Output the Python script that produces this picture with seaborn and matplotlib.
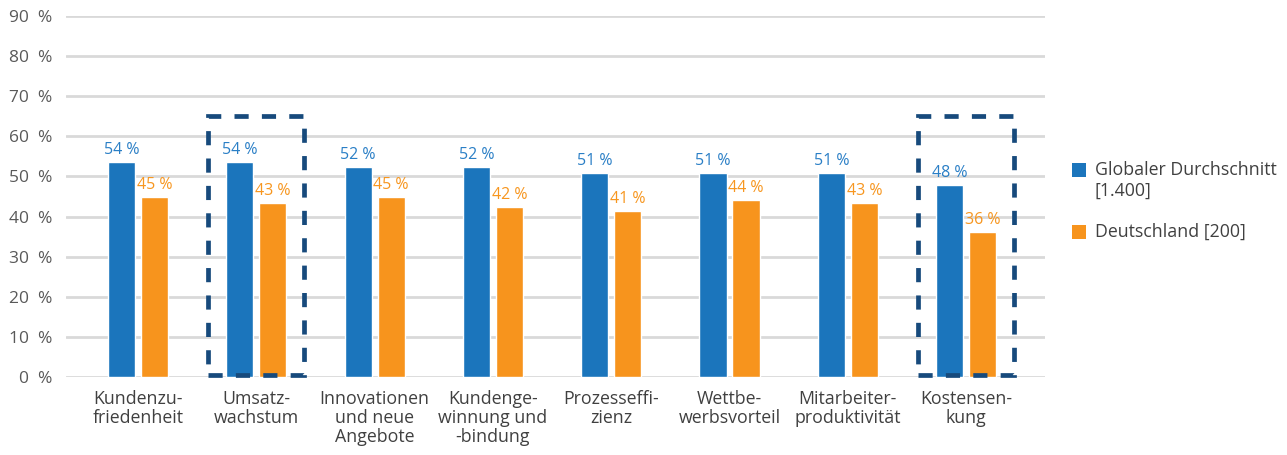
import numpy as np
import pandas as pd
import matplotlib
matplotlib.use("Agg")
import matplotlib.pyplot as plt
import seaborn as sns
from matplotlib.patches import Rectangle

# Daten
kategorien = ["Kundenzu-\nfriedenheit", "Umsatz-\nwachstum", "Innovationen\nund neue\nAngebote",
              "Kundenge-\nwinnung und\n-bindung", "Prozesseffi-\nzienz", "Wettbe-\nwerbsvorteil",
              "Mitarbeiter-\nproduktivität", "Kostensen-\nkung"]
global_werte = [53.6, 53.6, 52.4, 52.3, 50.9, 50.9, 50.9, 47.9]
deutschland_werte = [44.9, 43.4, 44.9, 42.4, 41.4, 44.1, 43.4, 36.2]
serien = ["Globaler Durchschnitt\n[1.400]", "Deutschland [200]"]
hervorgehoben = ["Umsatz-\nwachstum", "Kostensen-\nkung"]

blau = "#1b75bc"
orange = "#f7941d"
blau_text = "#2a7fc6"
orange_text = "#f7961f"
navy = "#174a7c"

df = pd.DataFrame({
    "kategorie": kategorien * 2,
    "serie": [serien[0]] * len(kategorien) + [serien[1]] * len(kategorien),
    "wert": global_werte + deutschland_werte,
})

sns.set_style("white")
plt.rcParams["font.family"] = ["Open Sans", "DejaVu Sans"]

W, H = 1287, 455
fig = plt.figure(figsize=(W / 100, H / 100), dpi=100)
ax = fig.add_axes([66 / W, 78 / H, (1045 - 66) / W, (377 - 16) / H])

sns.barplot(data=df, x="kategorie", y="wert", hue="serie", order=kategorien,
            hue_order=serien, palette=[blau, orange], width=0.558, gap=0.18,
            saturation=1, ax=ax, zorder=3, legend=False)

# Beschriftungen über den Balken
for cont, farbe in zip(ax.containers, [blau_text, orange_text]):
    ax.bar_label(cont, labels=[f"{round(v)} %" for v in cont.datavalues],
                 padding=3, color=farbe, fontsize=11.5)

ax.set_ylim(0, 90)
ax.set_xlim(-0.609, 7.667)
ax.set_yticks(np.arange(0, 91, 10))
ax.set_yticklabels([f"{v}  %" for v in range(0, 91, 10)])
ax.yaxis.grid(True, color="#d9d9d9", linewidth=2, zorder=0)
ax.set_axisbelow(True)
for s in ax.spines.values():
    s.set_visible(False)
ax.tick_params(axis="y", length=0, pad=10, labelsize=12.5, labelcolor="#595959")
ax.tick_params(axis="x", length=0, pad=9, labelsize=12.8, labelcolor="#404040")
for t in ax.get_xticklabels():
    t.set_linespacing(1.1)
ax.set_xlabel("")
ax.set_ylabel("")

# gestrichelte Rahmen
for k in hervorgehoben:
    i = kategorien.index(k)
    ax.add_patch(Rectangle((i - 0.405, 0.5), 0.81, 64.5, fill=False, edgecolor=navy,
                           linewidth=3.4, linestyle=(0, (3, 2.8)), zorder=4, clip_on=False))

# Legende: Quadrat an der ersten Textzeile ausgerichtet
for farbe, name, yc in zip([blau, orange], serien, [170, 232]):
    fig.patches.append(Rectangle((1072 / W, (H - yc - 7) / H), 14 / W, 14 / H,
                                 transform=fig.transFigure, facecolor=farbe,
                                 edgecolor="none"))
    fig.text(1095 / W, (H - yc + 9) / H, name, fontsize=12.8, color="#404040",
             ha="left", va="top", linespacing=1.2, transform=fig.transFigure)

fig.savefig("out.png", dpi=100)
